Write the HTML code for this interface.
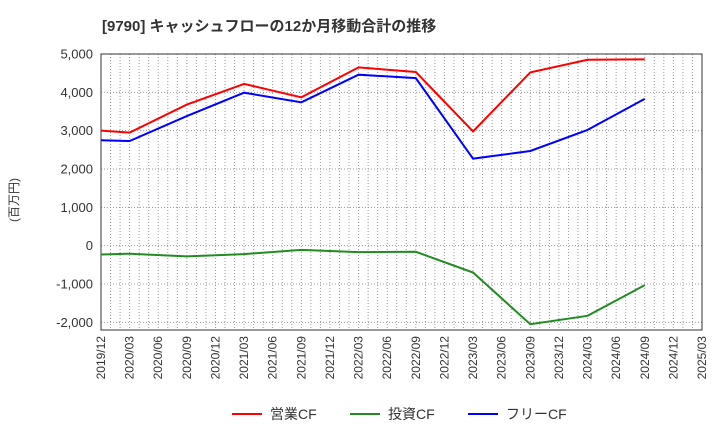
<!DOCTYPE html>
<html><head><meta charset="utf-8"><style>
body{margin:0;background:#fff;width:720px;height:440px;overflow:hidden}
text{font-family:"Liberation Sans","Noto Sans CJK JP",sans-serif}
</style></head><body>
<svg id="chart" width="720" height="440">
<text x="102" y="31" font-size="15" font-weight="bold" fill="#333">[9790]  キャッシュフローの12か月移動合計の推移</text>
<text transform="translate(18,200) rotate(-90)" font-size="12" fill="#333" text-anchor="middle">(百万円)</text>
<g id="grid"></g><g id="axes"></g><g id="series"></g>
<g>
<line x1="232" y1="414" x2="262" y2="414" stroke="#f00" stroke-width="2"/><text x="270" y="419" font-size="14" fill="#333">営業CF</text>
<line x1="350" y1="414" x2="380" y2="414" stroke="#228b22" stroke-width="2"/><text x="388" y="419" font-size="14" fill="#333">投資CF</text>
<line x1="468" y1="414" x2="498" y2="414" stroke="#00f" stroke-width="2"/><text x="506" y="419" font-size="14" fill="#333">フリーCF</text>
</g>
</svg>
<script>
const tickLabels=["2019/12","2020/03","2020/06","2020/09","2020/12","2021/03","2021/06","2021/09","2021/12","2022/03","2022/06","2022/09","2022/12","2023/03","2023/06","2023/09","2023/12","2024/03","2024/06","2024/09","2024/12","2025/03"];
const yTicks=[5000,4000,3000,2000,1000,0,-1000,-2000];
const pointQuarters=[0,1,3,5,7,9,11,13,15,17,19];
const operatingCF=[3000,2950,3680,4220,3870,4650,4530,2980,4520,4850,4860];
const investingCF=[-230,-210,-280,-220,-110,-170,-160,-700,-2050,-1830,-1030];
const freeCF=[2750,2730,3380,3990,3740,4460,4370,2270,2470,3020,3830];
const L=101,R=702,T=54,B=330,yMax=5000,yMin=-2200;
const ns="http://www.w3.org/2000/svg";
const xq=q=>L+(R-L)*q/21;
const y=v=>T+(B-T)*(yMax-v)/(yMax-yMin);
function mk(p,t,a){const e=document.createElementNS(ns,t);for(const k in a)e.setAttribute(k,a[k]);p.appendChild(e);return e;}
const grid=document.getElementById('grid'),axes=document.getElementById('axes'),ser=document.getElementById('series');
for(let m=1;m<63;m++){const x=L+(R-L)*m/63;const g=mk(grid,'line',{x1:x,x2:x,y1:T,y2:B,stroke:'#999','stroke-dasharray':'1,2','stroke-width':1});

}
yTicks.forEach(v=>{const g=mk(grid,'line',{x1:L,x2:R,y1:y(v),y2:y(v),stroke:'#999','stroke-dasharray':'1,2'});


const t=mk(axes,'text',{x:L-8,y:y(v)+4.5,'text-anchor':'end','font-size':13,fill:'#333'});t.textContent=v.toLocaleString('en-US');

});
tickLabels.forEach((s,i)=>{const x=xq(i);const t=mk(axes,'text',{transform:`translate(${x+4},${B+6}) rotate(-90)`,'text-anchor':'end','font-size':12,fill:'#333'});t.textContent=s;

});
const fr=mk(axes,'rect',{x:L,y:T,width:R-L,height:B-T,fill:'none',stroke:'#333'});


[[operatingCF,'#f00','operating-cf-line'],[investingCF,'#228b22','investing-cf-line'],[freeCF,'#00f','free-cf-line']].forEach(([d,c,n])=>{
const p=mk(ser,'polyline',{points:d.map((v,i)=>xq(pointQuarters[i])+','+y(v)).join(' '),fill:'none',stroke:c,'stroke-width':2});

});
</script>
</body></html>
